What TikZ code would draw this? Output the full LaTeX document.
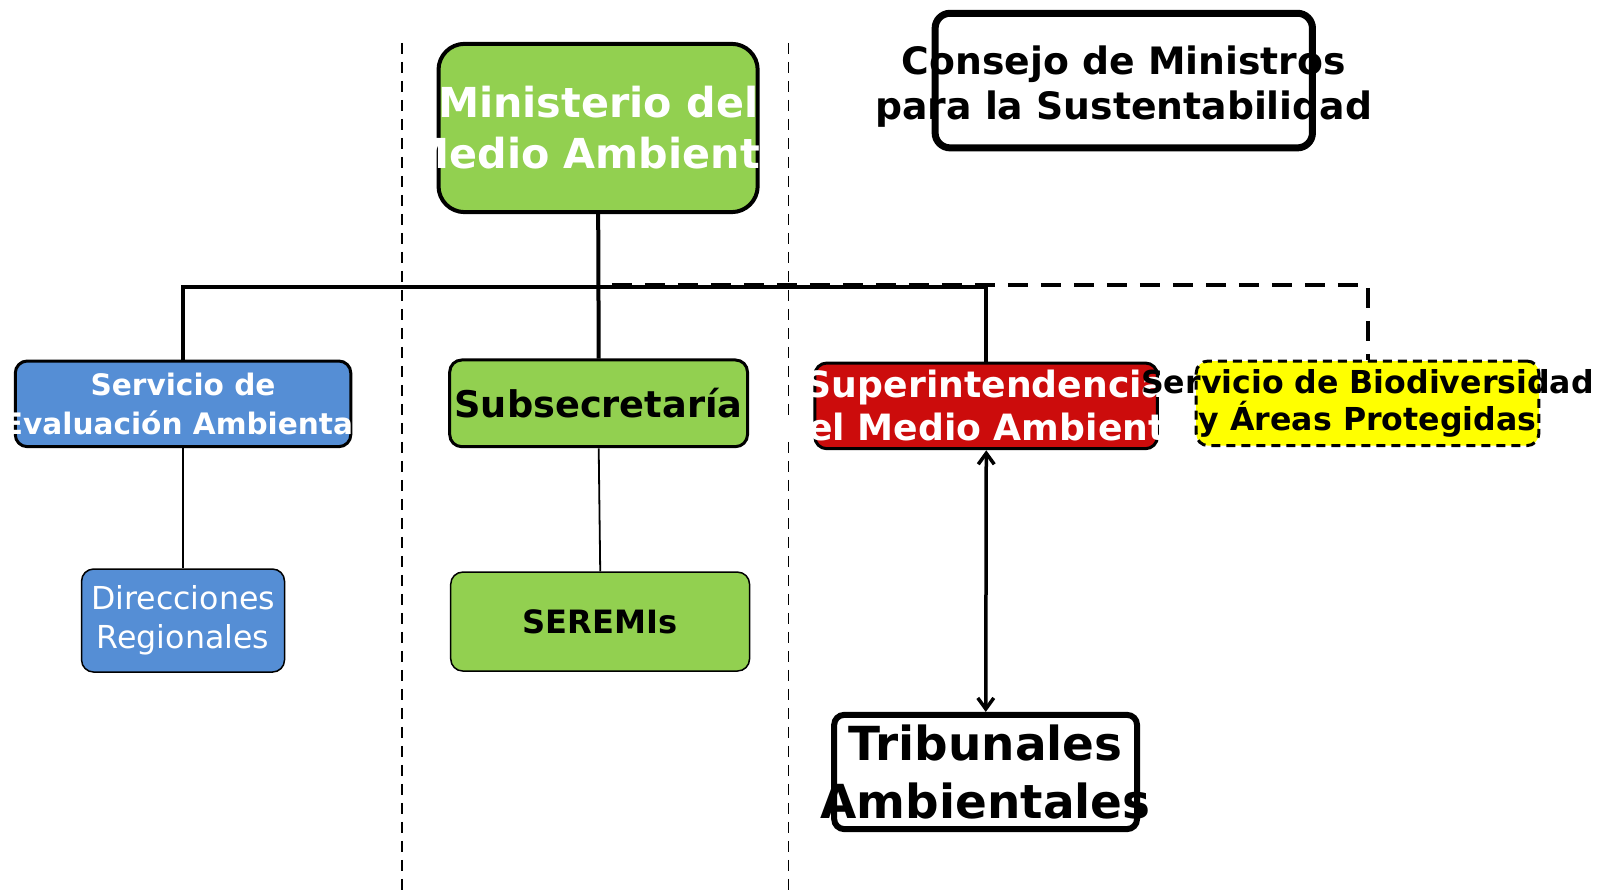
\documentclass[tikz,border=0pt]{standalone}
\usepackage{fontspec}
\setmainfont{DejaVu Sans}
\usetikzlibrary{arrows.meta}
\definecolor{mgreen}{RGB}{146,208,80}
\definecolor{mblue}{RGB}{85,142,213}
\definecolor{mred}{RGB}{204,12,12}
\definecolor{myellow}{RGB}{255,255,0}
\newcommand{\zw}[1]{\makebox[0pt]{#1}}
\tikzset{
  box/.style={draw=black, inner sep=0pt, align=center},
  conn/.style={draw=black, line width=4pt},
  thin/.style={draw=black, line width=1.8pt},
  guide/.style={draw=black, line width=1.4pt, dash pattern=on 11pt off 8pt},
}
\begin{document}
\begin{tikzpicture}[x=1pt,y=-1pt,scale=1.0198,every node/.append style={transform shape}]
\useasboundingbox (0,0) rectangle (1568,873.7);
% guides
\coordinate (g1t) at (394,42); \coordinate (g1b) at (394,873.7);
\coordinate (g2t) at (773,42); \coordinate (g2b) at (773,873.7);
\draw[guide] (g1t) -- (g1b);
\draw[guide] (g2t) -- (g2b);

% nodes
\node[box, fill=mgreen, line width=4pt, rounded corners=26pt, minimum width=313pt, minimum height=165pt,
      text=white, font=\bfseries\fontsize{40.5}{50}\selectfont] (min) at (586.5,125.5)
      {\zw{Ministerio del}\\\zw{Medio Ambiente}};
\node[box, fill=white, line width=7pt, rounded corners=15pt, minimum width=370pt, minimum height=132pt,
      font=\bfseries\fontsize{37}{44}\selectfont] (cons) at (1102,79)
      {\raisebox{0pt}[\dimexpr\height+12pt\relax]{\zw{Consejo de Ministros}}\\\zw{para la Sustentabilidad}};
\node[box, fill=mblue, line width=3pt, rounded corners=12pt, minimum width=329pt, minimum height=84pt,
      text=white, font=\bfseries\fontsize{29}{38}\selectfont] (sea) at (179.5,396)
      {\zw{Servicio de}\\\zw{Evaluación Ambiental}};
\node[box, fill=mgreen, line width=3pt, rounded corners=12pt, minimum width=292pt, minimum height=85pt,
      font=\bfseries\fontsize{36}{43}\selectfont] (sub) at (587,395.5)
      {\zw{Subsecretaría}};
\node[box, fill=mred, line width=3pt, rounded corners=12pt, minimum width=336pt, minimum height=84pt,
      text=white, font=\bfseries\fontsize{35.5}{42}\selectfont] (supe) at (967,398)
      {\zw{Superintendencia}\\\zw{del Medio Ambiente}};
\node[box, fill=myellow, line width=3pt, dash pattern=on 9pt off 6pt, rounded corners=12pt, minimum width=336pt, minimum height=83pt,
      font=\bfseries\fontsize{31}{37}\selectfont] (bio) at (1341,395.5)
      {\zw{Servicio de Biodiversidad}\\\zw{y Áreas Protegidas}};
\node[box, fill=mblue, line width=1.5pt, rounded corners=12pt, minimum width=199pt, minimum height=101pt,
      text=white, font=\fontsize{31}{38}\selectfont] (dir) at (179.5,608.5)
      {\raisebox{-3pt}{\zw{Direcciones}}\\\raisebox{-3pt}{\zw{Regionales}}};
\node[box, fill=mgreen, line width=1.5pt, rounded corners=12pt, minimum width=293pt, minimum height=97pt,
      font=\bfseries\fontsize{31.5}{36}\selectfont] (ser) at (588.5,609.5)
      {\zw{SEREMIs}};
\node[box, fill=white, line width=6pt, rounded corners=10pt, minimum width=297pt, minimum height=112pt,
      font=\bfseries\fontsize{46}{57}\selectfont] (trib) at (966.5,757)
      {\zw{Tribunales}\\\zw{Ambientales}};

% connectors
\coordinate (hl) at (587,281);
\coordinate (ds) at (600,279);
\draw[conn] (min.south) -- (sub.north);
\draw[conn] (sea.north) -- (sea.north |- hl) -- (supe.north |- hl) -- (supe.north);
\draw[conn, dash pattern=on 20pt off 13pt] (ds) -| (bio.north);
\draw[thin] (sea.south) -- (dir.north);
\draw[thin] (sub.south) -- (ser.north);
\draw[line width=3.5pt, {Straight Barb[length=11pt,width=16pt]}-{Straight Barb[length=11pt,width=16pt]}]
  (supe.south) -- (trib.north);
\end{tikzpicture}
\end{document}
